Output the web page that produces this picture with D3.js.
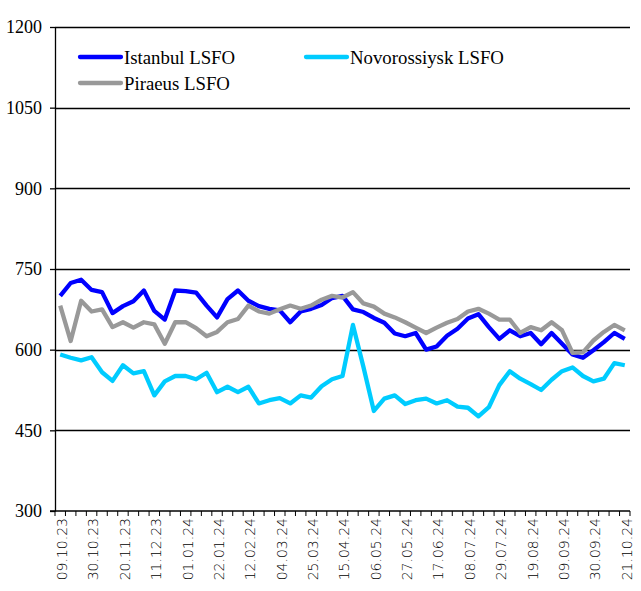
<!DOCTYPE html>
<html>
<head>
<meta charset="utf-8">
<script src="https://cdn.jsdelivr.net/npm/d3@7"></script>
<style>
  body { margin: 0; background: #fff; }
  svg { display: block; }
</style>
</head>
<body>
<script>
var width = 641;
var height = 591;

var margin = {
  top: 27,
  left: 55,
  right: 11,
  bottom: 80,
};

// weekly dates
var dates = [
  "09.10.23","16.10.23","23.10.23","30.10.23","06.11.23","13.11.23","20.11.23","27.11.23",
  "04.12.23","11.12.23","18.12.23","25.12.23","01.01.24","08.01.24","15.01.24","22.01.24",
  "29.01.24","05.02.24","12.02.24","19.02.24","26.02.24","04.03.24","11.03.24","18.03.24",
  "25.03.24","01.04.24","08.04.24","15.04.24","22.04.24","29.04.24","06.05.24","13.05.24",
  "20.05.24","27.05.24","03.06.24","10.06.24","17.06.24","24.06.24","01.07.24","08.07.24",
  "15.07.24","22.07.24","29.07.24","05.08.24","12.08.24","19.08.24","26.08.24","02.09.24",
  "09.09.24","16.09.24","23.09.24","30.09.24","07.10.24","14.10.24","21.10.24"
];

var tickLabels = [
  "09.10.23","30.10.23","20.11.23","11.12.23","01.01.24","22.01.24","12.02.24",
  "04.03.24","25.03.24","15.04.24","06.05.24","27.05.24","17.06.24","08.07.24",
  "29.07.24","19.08.24","09.09.24","30.09.24","21.10.24"
];

var yTicks = [300, 450, 600, 750, 900, 1050, 1200];

var istanbul = [
  700,724,730,711,707,668,681,690,710,672,656,710,709,706,682,660,694,710,691,681,
  676,673,651,671,676,683,696,700,675,670,659,650,630,625,631,600,606,626,639,658,
  666,642,620,636,625,631,610,631,611,591,585,599,614,631,620
];

var novorossiysk = [
  591,585,580,586,558,542,571,556,560,515,541,551,551,545,557,521,531,521,531,500,
  506,510,500,515,511,532,545,551,646,568,486,509,515,499,506,509,500,506,494,492,
  476,493,534,560,546,536,525,544,560,567,551,541,546,575,571
];

var piraeus = [
  682,616,691,671,675,642,651,641,651,647,611,651,651,640,625,633,651,657,682,671,
  667,675,682,676,682,693,700,697,707,686,680,667,660,651,641,631,641,650,657,671,
  676,667,656,656,631,642,636,651,636,594,595,617,633,646,636
];

var series = [
  {name: "Istanbul LSFO", values: istanbul, color: "#0000ff"},
  {name: "Novorossiysk LSFO", values: novorossiysk, color: "#00ccff"},
  {name: "Piraeus LSFO", values: piraeus, color: "#999999"}
];

var svg = d3.select("body")
    .append("svg")
    .attr("width", width)
    .attr("height", height);

var xScale = d3.scaleBand()
  .domain(dates)
  .range([margin.left, width - margin.right]);

var yScale = d3.scaleLinear()
  .domain([300, 1200])
  .range([height - margin.bottom, margin.top]);

// gridlines
svg.append("g")
  .selectAll("line")
  .data(yTicks.slice(1))
  .enter()
  .append("line")
    .attr("x1", margin.left)
    .attr("x2", width - margin.right)
    .attr("y1", function(d) { return Math.round(yScale(d)) + 0.5; })
    .attr("y2", function(d) { return Math.round(yScale(d)) + 0.5; })
    .attr("stroke", "#000")
    .attr("stroke-width", 1.3);

// y axis
var yAxis = svg.append("g")
  .attr("transform", "translate(" + margin.left + ",0)")
  .call(d3.axisLeft(yScale).tickValues(yTicks).tickSize(5).tickSizeOuter(0).tickFormat(d3.format("d")));
yAxis.selectAll("path, line").attr("stroke", "#000").attr("stroke-width", 1.3);
yAxis.selectAll("text")
  .attr("x", -13)
  .style("font-family", "'Liberation Serif', 'Times New Roman', serif")
  .style("font-size", "18px")
  .attr("fill", "#000");

// x axis line + week ticks
var x0 = yScale(300);
svg.append("line")
  .attr("x1", margin.left - 5)
  .attr("x2", width - margin.right)
  .attr("y1", x0)
  .attr("y2", x0)
  .attr("stroke", "#000")
  .attr("stroke-width", 1.3);

svg.append("g")
  .selectAll("line")
  .data(dates.concat(["end"]))
  .enter()
  .append("line")
    .attr("x1", function(d, i) { return margin.left + i * xScale.bandwidth(); })
    .attr("x2", function(d, i) { return margin.left + i * xScale.bandwidth(); })
    .attr("y1", x0)
    .attr("y2", x0 + 5)
    .attr("stroke", "#000")
    .attr("stroke-width", 1);

var xAxis = svg.append("g")
  .attr("transform", "translate(0," + x0 + ")")
  .call(d3.axisBottom(xScale).tickValues(tickLabels).tickSize(0));
xAxis.select(".domain").remove();
xAxis.selectAll("text")
  .attr("transform", "rotate(-90)")
  .attr("x", -7)
  .attr("y", 2)
  .attr("dy", "0.35em")
  .style("text-anchor", "end")
  .style("font-family", "'DejaVu Sans', sans-serif")
  .style("font-weight", "200")
  .style("font-size", "14px")
  .attr("fill", "#000");

// lines
var line = d3.line()
  .x(function(d, i) { return xScale(dates[i]) + xScale.bandwidth() / 2; })
  .y(function(d) { return yScale(d); });

svg.selectAll(".series")
  .data(series)
  .enter()
  .append("path")
    .attr("class", "series")
    .attr("d", function(d) { return line(d.values); })
    .attr("fill", "none")
    .attr("stroke", function(d) { return d.color; })
    .attr("stroke-width", 4.3)
    .attr("stroke-linejoin", "round");

// legend
var legendPos = [[80, 57], [306, 57], [80, 83]];
var legend = svg.selectAll(".legend")
  .data(series)
  .enter()
  .append("g")
    .attr("class", "legend")
    .attr("transform", function(d, i) { return "translate(" + legendPos[i][0] + "," + legendPos[i][1] + ")"; });

legend.append("line")
  .attr("x1", 0)
  .attr("x2", 41)
  .attr("stroke", function(d) { return d.color; })
  .attr("stroke-width", 4.3)
  .attr("stroke-linecap", "round");

legend.append("text")
  .attr("x", 44)
  .attr("dy", "0.35em")
  .text(function(d) { return d.name; })
  .style("font-family", "'Liberation Serif', 'Times New Roman', serif")
  .style("font-size", "18.8px")
  .attr("fill", "#000");
</script>
</body>
</html>
